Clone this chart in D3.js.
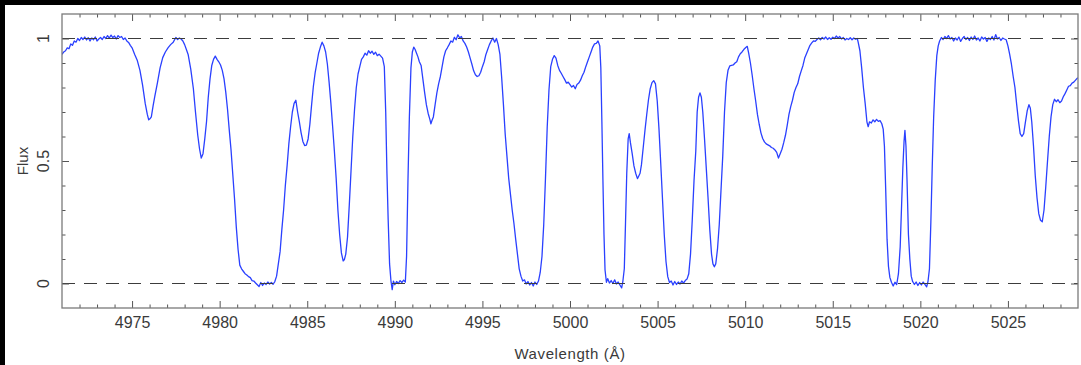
<!DOCTYPE html>
<html>
<head>
<meta charset="utf-8">
<script src="https://cdn.jsdelivr.net/npm/d3@7"></script>
<style>
  html, body { margin: 0; padding: 0; background: #fff; }
  svg { display: block; }
  text { font-family: "Liberation Sans", "DejaVu Sans", sans-serif; fill: #3a3a3a; }
</style>
</head>
<body>
<svg id="chart" width="1081" height="365"></svg>
<script>
// ---- Data ----
const wavelength = [
4971.00,4971.10,4971.20,4971.30,4971.40,4971.50,4971.60,4971.70,4971.80,4971.90,
4972.00,4972.10,4972.20,4972.30,4972.40,4972.50,4972.60,4972.70,4972.80,4972.90,
4973.00,4973.10,4973.20,4973.30,4973.40,4973.50,4973.60,4973.70,4973.80,4973.90,
4974.00,4974.10,4974.20,4974.30,4974.40,4974.50,4974.60,4974.70,4974.80,4974.90,
4975.00,4975.15,4975.30,4975.45,4975.60,4975.75,4975.87,4975.95,4976.02,4976.10,
4976.20,4976.30,4976.45,4976.60,4976.75,4976.90,4977.05,4977.20,4977.35,4977.50,
4977.60,4977.70,4977.80,4977.90,4978.00,4978.10,4978.20,4978.35,4978.50,4978.62,
4978.75,4978.85,4978.95,4979.05,4979.15,4979.25,4979.35,4979.45,4979.55,4979.65,
4979.75,4979.85,4979.95,4980.05,4980.15,4980.25,4980.35,4980.45,4980.55,4980.65,
4980.75,4980.85,4980.95,4981.05,4981.15,4981.25,4981.35,4981.45,4981.55,4981.65,
4981.75,4981.85,4981.95,4982.05,4982.15,4982.25,4982.35,4982.45,4982.55,4982.65,
4982.75,4982.85,4982.95,4983.05,4983.15,4983.25,4983.35,4983.45,4983.55,4983.65,
4983.75,4983.85,4983.95,4984.05,4984.15,4984.25,4984.35,4984.45,4984.55,4984.65,
4984.75,4984.85,4984.95,4985.05,4985.15,4985.25,4985.35,4985.45,4985.55,4985.65,
4985.75,4985.85,4985.95,4986.05,4986.15,4986.25,4986.35,4986.45,4986.55,4986.65,
4986.75,4986.85,4986.95,4987.05,4987.12,4987.20,4987.30,4987.40,4987.50,4987.60,
4987.70,4987.80,4987.90,4988.00,4988.10,4988.20,4988.30,4988.40,4988.50,4988.60,
4988.70,4988.80,4988.90,4989.00,4989.10,4989.20,4989.30,4989.40,4989.48,4989.55,
4989.62,4989.70,4989.78,4989.85,4989.92,4990.00,4990.10,4990.20,4990.30,4990.40,
4990.50,4990.60,4990.67,4990.75,4990.83,4990.92,4991.00,4991.08,4991.16,4991.24,
4991.32,4991.40,4991.50,4991.60,4991.70,4991.80,4991.90,4992.00,4992.06,4992.12,
4992.20,4992.30,4992.40,4992.50,4992.60,4992.70,4992.80,4992.90,4993.00,4993.10,
4993.20,4993.30,4993.40,4993.50,4993.60,4993.70,4993.80,4993.90,4994.00,4994.10,
4994.20,4994.30,4994.40,4994.50,4994.60,4994.70,4994.80,4994.90,4995.00,4995.10,
4995.20,4995.30,4995.40,4995.50,4995.60,4995.70,4995.80,4995.90,4996.00,4996.10,
4996.20,4996.30,4996.40,4996.50,4996.60,4996.70,4996.80,4996.90,4997.00,4997.10,
4997.20,4997.30,4997.40,4997.50,4997.60,4997.70,4997.80,4997.90,4998.00,4998.10,
4998.20,4998.30,4998.40,4998.50,4998.60,4998.70,4998.80,4998.90,4999.00,4999.10,
4999.20,4999.30,4999.40,4999.50,4999.60,4999.70,4999.80,4999.90,5000.00,5000.10,
5000.20,5000.30,5000.40,5000.50,5000.60,5000.70,5000.80,5000.90,5001.00,5001.10,
5001.20,5001.30,5001.40,5001.50,5001.60,5001.70,5001.76,5001.82,5001.88,5001.94,
5002.00,5002.08,5002.15,5002.25,5002.35,5002.45,5002.55,5002.65,5002.75,5002.85,
5002.95,5003.02,5003.10,5003.17,5003.24,5003.32,5003.38,5003.45,5003.55,5003.65,
5003.75,5003.85,5003.92,5004.00,5004.08,5004.18,5004.28,5004.38,5004.48,5004.58,
5004.68,5004.78,5004.88,5004.98,5005.08,5005.18,5005.28,5005.38,5005.48,5005.58,
5005.68,5005.78,5005.88,5005.98,5006.08,5006.18,5006.28,5006.38,5006.48,5006.58,
5006.68,5006.78,5006.88,5006.98,5007.08,5007.18,5007.26,5007.34,5007.42,5007.50,
5007.58,5007.68,5007.78,5007.88,5007.98,5008.08,5008.16,5008.24,5008.32,5008.42,
5008.52,5008.62,5008.72,5008.82,5008.92,5009.02,5009.12,5009.22,5009.32,5009.42,
5009.52,5009.62,5009.72,5009.82,5009.92,5010.02,5010.12,5010.20,5010.30,5010.40,
5010.50,5010.60,5010.70,5010.80,5010.90,5011.00,5011.10,5011.20,5011.30,5011.40,
5011.50,5011.60,5011.70,5011.80,5011.90,5012.00,5012.10,5012.20,5012.30,5012.40,
5012.50,5012.60,5012.70,5012.80,5012.90,5013.00,5013.10,5013.20,5013.30,5013.40,
5013.50,5013.60,5013.70,5013.80,5013.90,5014.00,5014.10,5014.20,5014.30,5014.40,
5014.50,5014.60,5014.70,5014.80,5014.90,5015.00,5015.10,5015.20,5015.30,5015.40,
5015.50,5015.60,5015.70,5015.80,5015.90,5016.00,5016.10,5016.20,5016.30,5016.40,
5016.45,5016.55,5016.65,5016.75,5016.85,5016.95,5017.02,5017.10,5017.20,5017.30,
5017.40,5017.50,5017.60,5017.70,5017.80,5017.88,5017.95,5018.02,5018.10,5018.18,
5018.26,5018.35,5018.45,5018.55,5018.65,5018.75,5018.85,5018.93,5019.00,5019.07,
5019.12,5019.18,5019.24,5019.32,5019.40,5019.48,5019.56,5019.66,5019.76,5019.86,
5019.96,5020.06,5020.16,5020.26,5020.36,5020.44,5020.52,5020.60,5020.68,5020.76,
5020.85,5020.94,5021.02,5021.10,5021.20,5021.30,5021.40,5021.50,5021.60,5021.70,
5021.80,5021.90,5022.00,5022.10,5022.20,5022.30,5022.40,5022.50,5022.60,5022.70,
5022.80,5022.90,5023.00,5023.10,5023.20,5023.30,5023.40,5023.50,5023.60,5023.70,
5023.80,5023.90,5024.00,5024.10,5024.20,5024.30,5024.40,5024.50,5024.60,5024.70,
5024.80,5024.90,5025.00,5025.10,5025.20,5025.30,5025.40,5025.50,5025.60,5025.70,
5025.80,5025.90,5026.00,5026.10,5026.20,5026.28,5026.36,5026.46,5026.56,5026.66,
5026.76,5026.86,5026.96,5027.06,5027.16,5027.26,5027.36,5027.46,5027.56,5027.66,
5027.76,5027.86,5027.96,5028.06,5028.16,5028.26,5028.36,5028.46,5028.56,5028.66,
5028.76,5028.86,5028.96,5029.00
];
const flux = [
0.935,0.945,0.950,0.962,0.958,0.978,0.972,0.990,0.985,1.000,
0.992,1.004,0.996,1.006,0.994,1.003,0.990,1.002,0.995,1.006,
0.990,0.998,1.004,0.996,1.008,1.000,1.012,1.002,1.014,1.004,
1.010,0.998,1.012,1.004,1.008,0.996,1.002,0.990,0.984,0.972,
0.962,0.935,0.910,0.870,0.810,0.735,0.690,0.668,0.672,0.680,
0.725,0.765,0.820,0.880,0.922,0.945,0.962,0.975,0.985,1.004,
0.996,1.002,0.998,0.990,0.975,0.955,0.935,0.875,0.795,0.700,
0.605,0.550,0.512,0.530,0.590,0.660,0.760,0.835,0.890,0.915,
0.928,0.915,0.905,0.892,0.870,0.835,0.780,0.710,0.625,0.545,
0.445,0.345,0.230,0.140,0.075,0.060,0.050,0.040,0.035,0.028,
0.024,0.012,0.010,0.002,-0.005,-0.012,0.004,-0.008,0.002,-0.004,
0.006,-0.002,0.004,-0.003,0.008,0.030,0.080,0.130,0.220,0.300,
0.400,0.480,0.570,0.640,0.700,0.735,0.748,0.700,0.660,0.615,
0.580,0.563,0.565,0.590,0.650,0.730,0.805,0.860,0.900,0.940,
0.965,0.985,0.970,0.945,0.895,0.820,0.735,0.640,0.540,0.430,
0.300,0.200,0.125,0.092,0.098,0.120,0.190,0.320,0.460,0.600,
0.710,0.800,0.855,0.885,0.915,0.925,0.940,0.932,0.950,0.940,
0.948,0.935,0.944,0.930,0.936,0.928,0.920,0.885,0.700,0.450,
0.260,0.080,0.010,-0.025,0.010,-0.005,0.008,0.000,0.012,0.004,
0.014,0.006,0.110,0.420,0.680,0.880,0.945,0.965,0.955,0.940,
0.925,0.905,0.890,0.835,0.780,0.730,0.695,0.670,0.652,0.665,
0.680,0.730,0.778,0.815,0.845,0.885,0.925,0.950,0.962,0.975,
0.990,0.985,1.005,0.995,1.015,1.003,1.008,0.990,0.980,0.965,
0.945,0.920,0.895,0.868,0.852,0.845,0.848,0.862,0.885,0.905,
0.935,0.955,0.975,0.990,1.002,0.985,1.000,0.975,0.935,0.840,
0.730,0.610,0.520,0.430,0.365,0.300,0.245,0.180,0.120,0.060,
0.030,0.010,0.015,-0.002,0.008,-0.006,0.004,-0.010,0.006,-0.004,
0.010,0.045,0.110,0.240,0.430,0.640,0.790,0.885,0.915,0.930,
0.920,0.890,0.870,0.858,0.845,0.832,0.818,0.822,0.812,0.802,
0.808,0.795,0.812,0.818,0.830,0.848,0.862,0.885,0.905,0.925,
0.945,0.965,0.978,0.980,0.990,0.970,0.880,0.660,0.420,0.200,
0.055,0.005,0.020,0.002,0.012,0.000,0.015,-0.002,0.006,-0.006,
-0.018,0.010,0.060,0.250,0.450,0.590,0.612,0.575,0.530,0.480,
0.450,0.428,0.438,0.450,0.485,0.555,0.625,0.690,0.750,0.795,
0.820,0.828,0.815,0.745,0.630,0.490,0.345,0.200,0.090,0.028,
0.004,0.010,-0.006,0.008,-0.004,0.006,-0.002,0.010,0.002,0.012,
0.018,0.040,0.120,0.260,0.420,0.540,0.700,0.760,0.778,0.760,
0.700,0.590,0.470,0.350,0.220,0.120,0.080,0.068,0.080,0.140,
0.240,0.380,0.520,0.700,0.820,0.870,0.888,0.890,0.892,0.900,
0.905,0.925,0.938,0.945,0.955,0.962,0.968,0.940,0.900,0.850,
0.795,0.745,0.690,0.650,0.615,0.592,0.578,0.570,0.566,0.562,
0.555,0.552,0.545,0.535,0.512,0.530,0.548,0.575,0.605,0.645,
0.690,0.722,0.748,0.780,0.800,0.815,0.845,0.868,0.890,0.920,
0.938,0.955,0.972,0.982,0.990,0.988,0.996,1.002,0.995,1.004,
0.998,1.006,0.996,1.003,0.997,1.005,1.000,1.010,1.002,1.008,
0.998,1.004,0.994,1.000,0.996,1.003,0.995,1.002,0.997,1.000,
0.985,0.950,0.880,0.800,0.735,0.660,0.640,0.660,0.655,0.668,
0.660,0.670,0.662,0.665,0.652,0.630,0.560,0.390,0.180,0.070,
0.025,0.005,-0.010,0.005,-0.004,0.040,0.150,0.320,0.470,0.580,
0.625,0.560,0.420,0.200,0.100,0.030,0.008,-0.004,0.006,-0.008,
0.004,-0.006,0.006,-0.004,-0.014,0.010,0.060,0.250,0.480,0.680,
0.830,0.930,0.970,0.990,1.004,0.996,1.008,1.000,1.012,0.998,
1.004,0.990,1.002,0.994,1.006,0.988,1.000,1.008,0.996,1.004,
0.992,1.006,0.996,1.010,0.994,1.002,0.990,1.006,0.998,1.004,
0.988,1.002,0.996,1.008,0.994,1.016,0.998,1.004,0.992,1.002,
0.998,0.995,0.970,0.935,0.895,0.845,0.800,0.730,0.665,0.612,
0.600,0.612,0.660,0.705,0.730,0.715,0.660,0.560,0.440,0.350,
0.285,0.258,0.252,0.300,0.395,0.500,0.600,0.680,0.730,0.752,
0.742,0.750,0.738,0.745,0.762,0.775,0.790,0.805,0.808,0.818,
0.822,0.830,0.838,0.840
];
const xMajorTicks = [4975, 4980, 4985, 4990, 4995, 5000, 5005, 5010, 5015, 5020, 5025];
const yMajorTicks = [0, 0.5, 1];
const yTickLabels = ["0", "0.5", "1"];
const referenceLevels = [0, 1];
const xDomain = [4971, 5029];
const yDomain = [-0.1, 1.1];

// ---- Layout ----
const W = 1081, H = 365;
const L = 62, R = 1078, T = 14, B = 308;
const svg = d3.select("#chart");

svg.append("rect").attr("width", W).attr("height", H).attr("fill", "#fff");
// black border strips (top and left) as in the reference
svg.append("rect").attr("x", 0).attr("y", 0).attr("width", W).attr("height", 5).attr("fill", "#000");
svg.append("rect").attr("x", 0).attr("y", 0).attr("width", 5).attr("height", H).attr("fill", "#000");

const x = d3.scaleLinear().domain(xDomain).range([L, R]);
const y = d3.scaleLinear().domain(yDomain).range([B, T]);

const points = wavelength.map((w, i) => [w, flux[i]]);

const clip = svg.append("defs").append("clipPath").attr("id", "clip")
  .append("rect").attr("x", L).attr("y", T).attr("width", R - L).attr("height", B - T);

// spectrum
svg.append("path")
  .datum(points)
  .attr("clip-path", "url(#clip)")
  .attr("fill", "none")
  .attr("stroke", "#2a40ff")
  .attr("stroke-width", 1.3)
  .attr("stroke-linejoin", "round")
  .attr("d", d3.line().x(d => x(d[0])).y(d => y(d[1])));

// dashed reference levels
svg.selectAll("line.ref").data(referenceLevels).enter().append("line")
  .attr("class", "ref")
  .attr("x1", L).attr("x2", R)
  .attr("y1", d => y(d)).attr("y2", d => y(d))
  .attr("stroke", "#3c3c3c").attr("stroke-width", 1)
  .attr("stroke-dasharray", "13,9");

// axes (ticks point inward)
const xMinor = d3.range(xDomain[0] + 1, xDomain[1], 1).filter(v => !xMajorTicks.includes(v));
const yMinor = d3.range(-1, 12).map(v => v / 10).filter(v => !yMajorTicks.includes(v) && v > yDomain[0] && v < yDomain[1]);

function styleAxis(g) {
  g.select(".domain").remove();
  g.selectAll(".tick line").attr("stroke", "#555").attr("stroke-width", 1);
}

// bottom
svg.append("g").attr("transform", `translate(0,${B})`)
  .call(d3.axisBottom(x).tickValues(xMajorTicks).tickSize(-7).tickPadding(9).tickFormat(d3.format("d")))
  .call(styleAxis)
  .call(g => g.selectAll("text").attr("font-size", 16).attr("fill", "#3a3a3a")
    .attr("font-family", "Liberation Sans, DejaVu Sans, sans-serif"));
svg.append("g").attr("transform", `translate(0,${B})`)
  .call(d3.axisBottom(x).tickValues(xMinor).tickSize(-3.5).tickFormat(""))
  .call(styleAxis);
// top
svg.append("g").attr("transform", `translate(0,${T})`)
  .call(d3.axisTop(x).tickValues(xMajorTicks).tickSize(-7).tickFormat(""))
  .call(styleAxis);
svg.append("g").attr("transform", `translate(0,${T})`)
  .call(d3.axisTop(x).tickValues(xMinor).tickSize(-3.5).tickFormat(""))
  .call(styleAxis);
// left
svg.append("g").attr("transform", `translate(${L},0)`)
  .call(d3.axisLeft(y).tickValues(yMajorTicks).tickSize(-7).tickFormat(""))
  .call(styleAxis);
svg.append("g").attr("transform", `translate(${L},0)`)
  .call(d3.axisLeft(y).tickValues(yMinor).tickSize(-3.5).tickFormat(""))
  .call(styleAxis);
// right
svg.append("g").attr("transform", `translate(${R},0)`)
  .call(d3.axisRight(y).tickValues(yMajorTicks).tickSize(-7).tickFormat(""))
  .call(styleAxis);
svg.append("g").attr("transform", `translate(${R},0)`)
  .call(d3.axisRight(y).tickValues(yMinor).tickSize(-3.5).tickFormat(""))
  .call(styleAxis);

// rotated y tick labels
svg.selectAll("text.ylab").data(yMajorTicks).enter().append("text")
  .attr("class", "ylab")
  .attr("transform", d => `translate(48.5,${y(d)}) rotate(-90)`)
  .attr("text-anchor", "middle")
  .attr("font-size", 16)
  .text((d, i) => yTickLabels[i]);

// frame
svg.append("rect").attr("x", L).attr("y", T).attr("width", R - L).attr("height", B - T)
  .attr("fill", "none").attr("stroke", "#7a7a7a").attr("stroke-width", 1.3);

// axis titles
svg.append("text")
  .attr("transform", `translate(28,${(T + B) / 2}) rotate(-90)`)
  .attr("text-anchor", "middle").attr("font-size", 15)
  .text("Flux");
svg.append("text")
  .attr("x", (L + R) / 2).attr("y", 359)
  .attr("text-anchor", "middle").attr("font-size", 15)
  .attr("letter-spacing", 0.6)
  .text("Wavelength (Å)");
</script>
</body>
</html>
